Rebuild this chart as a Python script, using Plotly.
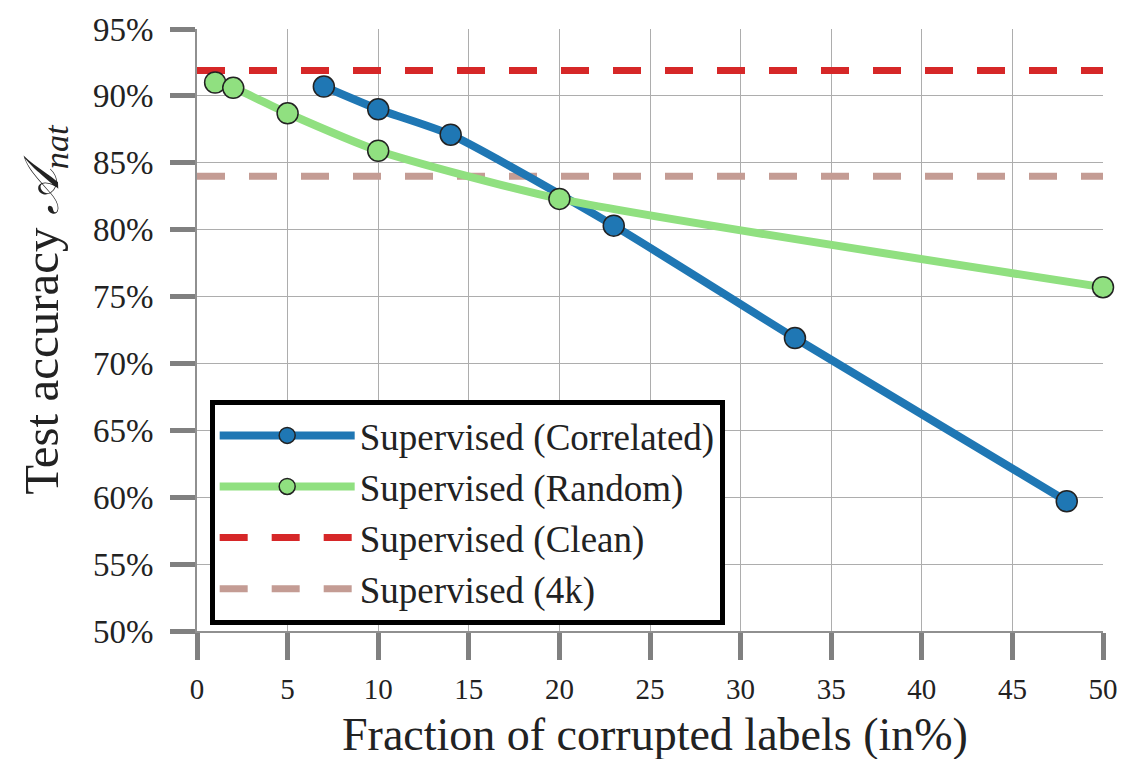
import plotly.graph_objects as go

corr_x = [7, 10, 14, 23, 33, 48]
corr_y = [90.7, 89.0, 87.1, 80.3, 71.9, 59.7]
rand_x = [1, 2, 5, 10, 20, 50]
rand_y = [91.0, 90.6, 88.7, 85.9, 82.3, 75.7]
clean_y = 91.9
k4_y = 84.0
x_ticks = [0, 5, 10, 15, 20, 25, 30, 35, 40, 45, 50]
y_ticks = [50, 55, 60, 65, 70, 75, 80, 85, 90, 95]

FONT = "Liberation Serif"
fig = go.Figure()

fig.add_trace(go.Scatter(x=[0, 50], y=[clean_y, clean_y], mode="lines",
                         name="Supervised (Clean)", legendrank=3,
                         line=dict(color="#d62728", width=7, dash="28px,24px")))
fig.add_trace(go.Scatter(x=[0, 50], y=[k4_y, k4_y], mode="lines",
                         name="Supervised (4k)", legendrank=4,
                         line=dict(color="#c49c94", width=7, dash="28px,24px")))
fig.add_trace(go.Scatter(x=corr_x, y=corr_y, mode="lines+markers",
                         name="Supervised (Correlated)", legendrank=1,
                         line=dict(color="#1f77b4", width=8, shape="spline", smoothing=0.6),
                         marker=dict(size=21, color="#1f77b4", line=dict(color="#222", width=1.5))))
fig.add_trace(go.Scatter(x=rand_x, y=rand_y, mode="lines+markers",
                         name="Supervised (Random)", legendrank=2,
                         line=dict(color="#90e080", width=8, shape="spline", smoothing=0.6),
                         marker=dict(size=21, color="#90e080", line=dict(color="#222", width=1.5))))

fig.update_traces(cliponaxis=False)

fig.update_layout(
    width=1109, height=751,
    margin=dict(l=189, r=14, t=21, b=128, autoexpand=False),
    paper_bgcolor="white", plot_bgcolor="white",
    font=dict(family=FONT, size=28, color="#222"),
    showlegend=True,
    legend=dict(x=0.014, y=0.384, xanchor="left", yanchor="top",
                bgcolor="white", bordercolor="black", borderwidth=5,
                font=dict(size=37, family=FONT),
                itemwidth=135),
    xaxis=dict(range=[0, 50], tickvals=x_ticks, ticktext=[str(v) for v in x_ticks],
               showgrid=True, gridcolor="#adadad", gridwidth=1,
               showline=True, linecolor="#909090", linewidth=2,
               ticks="outside", ticklen=27, tickwidth=5, tickcolor="#808080",
               tickfont=dict(size=29), ticklabelstandoff=4,
               automargin=False, ticklabeloverflow="allow",
               zeroline=False),
    yaxis=dict(range=[50, 95], tickvals=y_ticks, ticktext=[f"{v}%" for v in y_ticks],
               showgrid=True, gridcolor="#adadad", gridwidth=1,
               showline=True, linecolor="#909090", linewidth=2,
               ticks="outside", ticklen=25, tickwidth=5, tickcolor="#808080",
               tickfont=dict(size=33), ticklabelstandoff=10,
               automargin=False, ticklabeloverflow="allow",
               zeroline=False),
    annotations=[
        dict(text="Fraction of corrupted labels (in%)", xref="paper", yref="paper",
             x=0.505, y=-0.172, xanchor="center", yanchor="middle", showarrow=False,
             font=dict(size=46, family=FONT, color="#222")),
        dict(text="Test accuracy <i>𝒜</i><sub><i>nat</i></sub>", xref="paper", yref="paper",
             x=-0.168, y=0.535, xanchor="center", yanchor="middle", showarrow=False,
             textangle=-90, font=dict(size=49, family=FONT, color="#222")),
    ],
)

fig.write_html("out.html")
